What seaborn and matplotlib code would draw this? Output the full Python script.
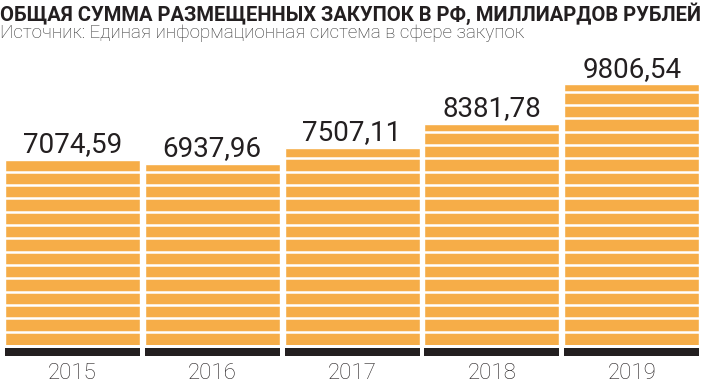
import matplotlib
matplotlib.use("Agg")
import matplotlib.pyplot as plt
import seaborn as sns
import pandas as pd
import numpy as np

years = ["2015", "2016", "2017", "2018", "2019"]
values = [7074.59, 6937.96, 7507.11, 8381.78, 9806.54]
value_labels = ["7074,59", "6937,96", "7507,11", "8381,78", "9806,54"]
title = "ОБЩАЯ СУММА РАЗМЕЩЕННЫХ ЗАКУПОК В РФ, МИЛЛИАРДОВ РУБЛЕЙ"
subtitle = "Источник: Единая информационная система в сфере закупок"

ORANGE = "#F6AD48"
DARK = "#231F20"

sns.set_theme(style="white")
plt.rcParams["font.family"] = ["Roboto", "DejaVu Sans"]

df = pd.DataFrame({"year": years, "value": values})

W, H = 705, 390
fig = plt.figure(figsize=(W / 100, H / 100), dpi=100)
fig.patch.set_facecolor("white")

scale = 196 / 7074.59  # px per unit
ymax = 10500
ax_h = ymax * scale
ax_bottom_px = 356
left_px, width_px = 2.6, 699.0
ax = fig.add_axes([left_px / W, (H - ax_bottom_px) / H, width_px / W, ax_h / H])

sns.barplot(data=df, x="year", y="value", color=ORANGE, saturation=1,
            width=0.966, ax=ax, zorder=2)

ax.set_xlim(-0.5, 4.5)
ax.set_ylim(0, ymax)

# black base and white gap on each bar
base_top = 300
gap_top = 415
for p in ax.patches[:len(values)]:
    x0, w = p.get_x(), p.get_width()
    ax.add_patch(plt.Rectangle((x0, 0), w, base_top, color=DARK, zorder=3, lw=0))
    ax.add_patch(plt.Rectangle((x0, base_top), w, gap_top - base_top,
                               color="white", zorder=3, lw=0))
    # stripes clipped to the bar
    levels = np.arange(877, p.get_height(), 481)
    lc = ax.hlines(levels, x0, x0 + w, colors="white", linewidth=1.8, zorder=4)
    lc.set_clip_path(p)

for i, (v, lab) in enumerate(zip(values, value_labels)):
    ax.annotate(lab, (i, v), xytext=(0, 5.5), textcoords="offset points",
                ha="center", va="baseline", fontsize=20, fontweight="normal",
                color=DARK, zorder=6)

for s in ax.spines.values():
    s.set_visible(False)
ax.set_yticks([])
ax.set_xlabel("")
ax.set_ylabel("")
ax.tick_params(axis="x", length=0, pad=5, labelsize=16, colors=DARK)
for t in ax.get_xticklabels():
    t.set_fontweight("light")
ax.set_facecolor("white")

fig.text(0.0, 1 - 2 / H, title, ha="left", va="top", fontsize=14.5,
         fontweight="bold", color=DARK)
fig.text(0.0, 1 - 24 / H, subtitle, ha="left", va="top", fontsize=13.5,
         fontweight="light", color="#333333")

fig.savefig("out.png", dpi=100, facecolor="white")
